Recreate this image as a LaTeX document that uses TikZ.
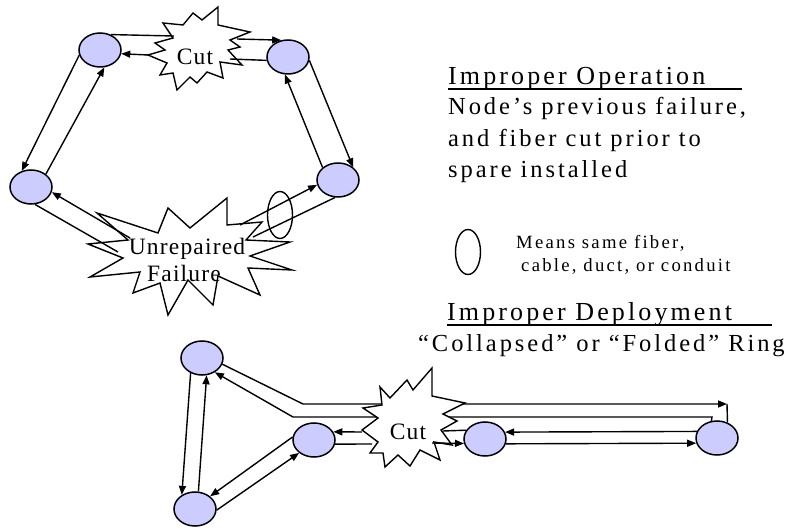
\documentclass[tikz,border=0pt]{standalone}
\usepackage{fontspec}
\setmainfont{Liberation Serif}
\newfontfamily\spacedfont[LetterSpace=12]{Liberation Serif}
\newfontfamily\burstfont[LetterSpace=5]{Liberation Serif}
\usetikzlibrary{shapes.geometric,arrows.meta}
\definecolor{siteblue}{RGB}{204,204,255}

\begin{document}
\begin{tikzpicture}[x=1pt,y=-1pt,
	site/.style={ellipse,draw,fill=siteblue,line width=1.5pt,minimum width=42pt,minimum height=34pt,inner sep=0pt},
	fiber/.style={line width=1.4pt},
	fibarrow/.style={fiber,-{Triangle[length=9pt,width=7pt]}},
	burst/.style={draw,fill=white,line width=1.4pt,line join=miter},
	conduit/.style={ellipse,draw,line width=1.4pt,inner sep=0pt,minimum width=25pt},
	burstlabel/.style={inner sep=0pt,anchor=base,font=\burstfont\fontsize{23.5}{27}\selectfont},
	title/.style={inner sep=0pt,anchor=base west,font=\spacedfont\fontsize{26}{30}\selectfont},
	body/.style={inner sep=0pt,anchor=base west,font=\spacedfont\fontsize{24.5}{28}\selectfont},
	keytext/.style={inner sep=0pt,anchor=base west,font=\spacedfont\fontsize{18.7}{22}\selectfont}]
	\useasboundingbox (0,0) rectangle (790,529);
	% improper operation ring
	\node[site] (tl) at (100,50) {};
	\node[site] (tr) at (288,57) {};
	\node[site] (lf) at (31,187) {};
	\node[site] (rt) at (338,180) {};
	\draw[burst] (155,43) -- (173,38) -- (163,23) -- (183,25) -- (193,13) -- (202,20) -- (218,7) -- (218,25) -- (250,32) -- (230,40) -- (240,47) -- (228,50) -- (242,65) -- (220,62) -- (223,78) -- (207,72) -- (197,83) -- (190,77) -- (177,90) -- (173,73) -- (160,75) -- (167,63) -- (148,55) -- (165,50) -- cycle;
	\node[burstlabel] (cuttop) at (195,65) {Cut};
	\coordinate (c1) at (174,36);
	\coordinate (c2) at (148,55);
	\coordinate (c3) at (237,39);
	\coordinate (c4) at (230,59);
	\draw[fiber] (tl.55) -- (c1);
	\draw[fibarrow] (c2) -- (tl.-10);
	\draw[fibarrow] (c3) -- (tr.112);
	\draw[fiber] (tr.189) -- (c4);
	\draw[fibarrow] (tl.194) -- (lf.120);
	\draw[fibarrow] (lf.41) -- (tl.-76);
	\draw[fibarrow] (tr.-9) -- (rt.40);
	\draw[fibarrow] (rt.141) -- (tr.-100);
	\draw[burst] (88,244) -- (128,240) -- (97,213) -- (158,233) -- (168,208) -- (190,228) -- (227,198) -- (227,225) -- (262,222) -- (246,240) -- (290,242) -- (250,256) -- (292,270) -- (248,268) -- (260,295) -- (218,276) -- (213,305) -- (188,280) -- (168,315) -- (160,283) -- (133,293) -- (140,272) -- (90,277) -- (123,258) -- cycle;
	\node[burstlabel] (unrep) at (187,255) {Unrepaired};
	\node[burstlabel] (fail) at (184,282) {Failure};
	\coordinate (u1) at (130,238);
	\coordinate (u2) at (118,252);
	\coordinate (u3) at (240,225);
	\coordinate (u4) at (253,237);
	\draw[fibarrow] (u1) -- (lf.-14);
	\draw[fiber] (lf.-77) -- (u2);
	\draw[fibarrow] (u3) -- (rt.193);
	\draw[fiber] (rt.-100) -- (u4);
	\node[conduit,minimum height=47pt] (samecable) at (280,215) {};
	% text on the right
	\node[title] (optitle) at (448,85) {Improper Operation};
	\draw[line width=1.4pt] ([yshift=-4pt]optitle.base west) -- ++(294,0);
	\node[body] (opline1) at (448,115) {Node’s previous failure,};
	\node[body] (opline2) at (448,147) {and fiber cut prior to};
	\node[body] (opline3) at (448,178) {spare installed};
	\node[conduit,minimum height=45pt] (keyoval) at (468,252) {};
	\node[keytext] (keyline1) at (516,249) {Means same fiber,};
	\node[keytext] (keyline2) at (521,272) {cable, duct, or conduit};
	\node[title] (deptitle) at (447,321) {Improper Deployment};
	\draw[line width=1.4pt] ([yshift=-4pt]deptitle.base west) -- ++(325,0);
	\node[body] (depline) at (418,352) {“Collapsed” or “Folded” Ring};
	% folded ring
	\node[site] (ringtop) at (202,358) {};
	\node[site] (ringbot) at (195,509) {};
	\node[site] (ringmid) at (314,440) {};
	\node[site] (spanleft) at (485,439) {};
	\node[site] (spanright) at (717,438) {};
	\coordinate (bendhi) at (303,404);
	\coordinate (cornerhi) at (727,404);
	\coordinate (bendlo) at (293,417);
	\coordinate (cornerlo) at (712,417);
	\draw[fibarrow] (ringtop.-17) -- (bendhi) -- (cornerhi);
	\draw[fiber] (cornerhi) -- (spanright.56);
	\draw[fibarrow] (spanright.108) -- (cornerlo) -- (bendlo) -- (ringtop.-48);
	\draw[burst] (380,387) -- (390,398) -- (407,380) -- (413,390) -- (432,368) -- (432,396) -- (465,403) -- (443,414) -- (457,421) -- (441,430) -- (452,445) -- (434,442) -- (440,460) -- (420,450) -- (410,466) -- (398,455) -- (385,467) -- (383,453) -- (370,453) -- (378,442) -- (362,430) -- (378,418) -- (363,408) -- (382,405) -- cycle;
	\node[burstlabel] (cutbot) at (408,439) {Cut};
	\coordinate (k1) at (432,443);
	\coordinate (k2) at (443,431);
	\coordinate (k3) at (362,432);
	\coordinate (k4) at (372,444);
	\draw[fibarrow] (k1) -- (spanleft.192);
	\draw[fiber] (spanleft.155) -- (k2);
	\draw[fibarrow] (k3) -- (ringmid.23);
	\draw[fiber] (ringmid.-11) -- (k4);
	\draw[fibarrow] (spanright.162) -- (spanleft.19);
	\draw[fibarrow] (spanleft.-13) -- (spanright.194);
	\draw[fibarrow] (ringtop.-127) -- (ringbot.133);
	\draw[fibarrow] (ringbot.79) -- (ringtop.-75);
	\draw[fibarrow] (ringmid.172) -- (ringbot.40);
	\draw[fibarrow] (ringbot.-3) -- (ringmid.221);
\end{tikzpicture}
\end{document}
